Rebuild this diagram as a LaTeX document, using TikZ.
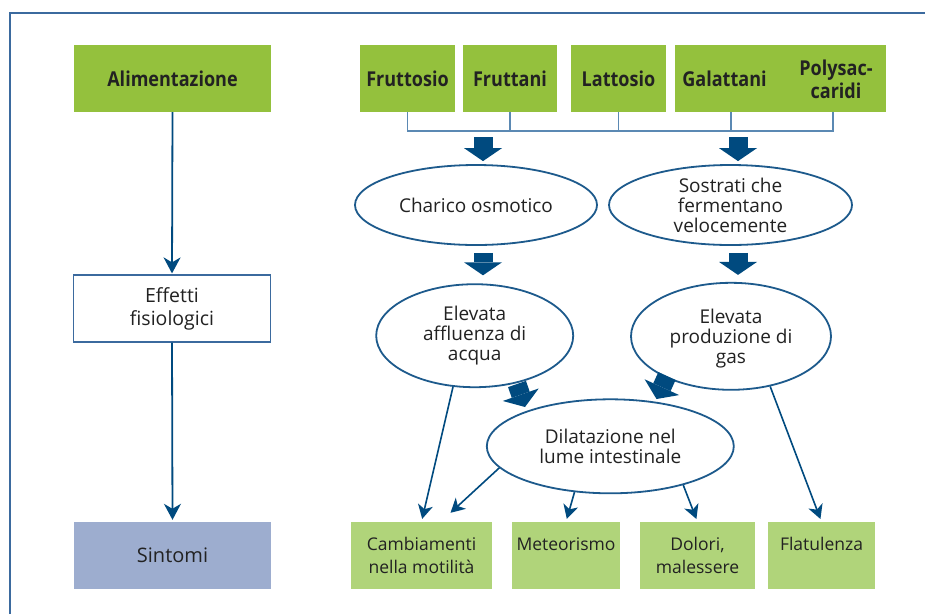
\documentclass[tikz,border=0pt]{standalone}
\usepackage{fontspec}
\setmainfont{Open Sans}
\newfontfamily\bcfont{Open Sans}[FakeStretch=0.88]
\usetikzlibrary{arrows.meta,shapes.geometric}
\definecolor{topgreen}{HTML}{94C13D}
\definecolor{botgreen}{HTML}{B0D47A}
\definecolor{sintblue}{HTML}{9DADCF}
\definecolor{dblue}{HTML}{004A7F}
\definecolor{eblue}{HTML}{1D5A8C}
\definecolor{lblue}{HTML}{5B89B3}
\definecolor{fblue}{HTML}{3B6A9E}
\definecolor{txt}{HTML}{222222}
\begin{document}
\begin{tikzpicture}[x=1pt,y=-1pt,
  topbox/.style={fill=topgreen, minimum height=67pt, inner sep=0pt, text=txt, align=center,
    font=\bcfont\bfseries\fontsize{20.5}{23}\selectfont},
  boldtxt/.style={inner sep=0pt, text=txt, align=center, font=\bcfont\bfseries\fontsize{20.5}{23}\selectfont},
  oval/.style={ellipse, draw=eblue, line width=1.8pt, fill=white, inner sep=0pt, text=txt, align=center,
    font=\fontsize{19}{20}\selectfont},
  botbox/.style={fill=botgreen, minimum height=67pt, inner sep=0pt, text=txt, align=center,
    font=\fontsize{17.5}{23}\selectfont},
  leftbox/.style={minimum height=67pt, minimum width=197pt, inner sep=0pt, text=txt, align=center,
    font=\fontsize{19.5}{23}\selectfont},
  arr/.style={draw=dblue, line width=1.6pt, -{Stealth[length=14pt,width=15pt,inset=4pt]}},
  arrbig/.style={draw=dblue, line width=1.8pt, -{Stealth[length=16pt,width=17pt,inset=5pt]}},
  blockarr/.style={draw=dblue, line width=19pt, -{Triangle[length=13pt,width=38pt,line width=0pt]}},
  conn/.style={draw=lblue, line width=1.2pt},
  frame/.style={draw=fblue, line width=1.6pt}
]
\useasboundingbox (0,0) rectangle (925,614);
\fill[white] (0,0) rectangle (925,614);
\draw[frame] (10,614) -- (10,13) -- (925,13);

% left column
\node[topbox, minimum width=197pt] (alim) at (172.5,78.5) {Alimentazione};
\node[leftbox, draw=fblue, line width=1.2pt, fill=white] (eff) at (172,308.5) {Effetti\\fisiologici};
\node[leftbox, fill=sintblue, font=\fontsize{20}{23}\selectfont] (sint) at (172.5,555.5) {Sintomi};
\draw[arrbig, shorten >=1pt] (alim.south) -- (eff.north);
\draw[arrbig, shorten >=2pt] (eff.south) -- (sint.north);

% top row
\node[topbox, minimum width=95pt] (fruttosio) at (407.5,78.5) {Fruttosio};
\node[topbox, minimum width=94pt] (fruttani) at (510,78.5) {Fruttani};
\node[topbox, minimum width=95pt] (lattosio) at (618.5,78.5) {Lattosio};
\node[topbox, minimum width=211pt] (galbox) at (780.5,78.5) {};
\node[boldtxt] (gal) at (724.5,78.5) {Galattani};
\node[boldtxt] (poly) at (836,79) {Polysac-\\caridi};

\coordinate (barL) at (407,131);
\coordinate (barR) at (833,131);
\coordinate (galx) at (731,131);
\draw[conn] (fruttosio.south) -- (fruttosio.south |- barL) -- (barR) -- (barR |- galbox.south);
\draw[conn] (fruttani.south) -- (fruttani.south |- barL);
\draw[conn] (lattosio.south) -- (lattosio.south |- barL);
\draw[conn] (galx) -- (galx |- galbox.south);

% ellipses
\node[oval, minimum width=242pt, minimum height=80pt] (charico) at (476,205) {Charico osmotico};
\node[oval, minimum width=243pt, minimum height=80pt] (sost) at (730.5,205) {Sostrati che\\fermentano\\velocemente};
\node[oval, minimum width=197pt, minimum height=103pt] (affl) at (474.7,335.7) {Elevata\\affluenza di\\acqua};
\node[oval, minimum width=200pt, minimum height=107pt, text depth=0pt] (prod) at (731,336.3) {Elevata\\produzione di\\gas};
\node[oval, minimum width=247pt, minimum height=94pt] (dil) at (610.3,446.3) {Dilatazione nel\\lume intestinale};

% block arrows
\coordinate (v1) at (483,137);
\coordinate (v2) at (738,137);
\draw[blockarr, shorten >=3pt] (v1) -- (v1 |- charico.north);
\draw[blockarr, shorten >=3pt] (v2) -- (v2 |- sost.north);
\draw[blockarr, shorten <=7pt, shorten >=8pt] (charico.south -| v1) -- (affl.north -| v1);
\draw[blockarr, shorten <=7pt, shorten >=7pt] (sost.south -| v2) -- (prod.north -| v2);
\coordinate (d1s) at (517,384);
\coordinate (d1e) at (525,407);
\coordinate (d2s) at (667,376);
\coordinate (d2e) at (656.5,399);
\draw[blockarr] (d1s) -- (d1e);
\draw[blockarr] (d2s) -- (d2e);

% bottom row
\node[botbox, minimum width=141pt] (camb) at (421.5,555.5) {Cambiamenti\\nella motilità};
\node[botbox, minimum width=108pt] (met) at (566,555.5) {Meteorismo\\\mbox{}};
\node[botbox, minimum width=115pt] (dol) at (697.5,555.5) {Dolori,\\malessere};
\node[botbox, minimum width=107pt] (flat) at (821.5,555.5) {Flatulenza\\\mbox{}};

\draw[arr, shorten >=3pt] (affl.247) -- (camb.north);
\draw[arr] (dil.191) -- ([xshift=29pt,yshift=9pt]camb.north);
\draw[arr, shorten >=3pt] (dil.232) -- (met.north);
\draw[arr, shorten >=3pt] (dil.332) -- (dol.north);
\draw[arr, shorten >=3pt] (prod.308) -- (flat.north);
\end{tikzpicture}
\end{document}
